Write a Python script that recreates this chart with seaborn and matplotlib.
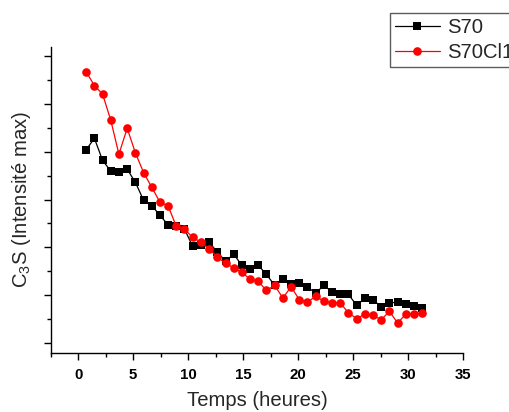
import numpy as np
import pandas as pd
import matplotlib
matplotlib.use("Agg")
import matplotlib.pyplot as plt
import seaborn as sns

# ---- data (y in arbitrary units, ticks unlabeled) ----
hours = [0.72, 1.47, 2.21, 2.96, 3.70, 4.45, 5.19, 5.94, 6.68, 7.43, 8.17,
         8.92, 9.66, 10.41, 11.15, 11.90, 12.64, 13.39, 14.13, 14.88, 15.62,
         16.37, 17.11, 17.86, 18.60, 19.35, 20.09, 20.84, 21.58, 22.33, 23.07,
         23.82, 24.56, 25.31, 26.05, 26.80, 27.54, 28.29, 29.03, 29.78, 30.52,
         31.27]
s70 = [4.035, 4.278, 3.819, 3.590, 3.583, 3.632, 3.361, 2.986, 2.875, 2.667,
       2.472, 2.438, 2.382, 2.021, 2.042, 2.104, 1.910, 1.708, 1.861, 1.625,
       1.549, 1.625, 1.438, 1.208, 1.340, 1.236, 1.257, 1.174, 1.049, 1.208,
       1.076, 1.035, 1.021, 0.792, 0.938, 0.910, 0.757, 0.833, 0.868, 0.819,
       0.785, 0.729]
s70cl1 = [5.667, 5.375, 5.201, 4.653, 3.944, 4.486, 3.979, 3.563, 3.257, 2.944,
          2.868, 2.438, 2.382, 2.208, 2.111, 1.965, 1.806, 1.667, 1.576, 1.479,
          1.340, 1.292, 1.104, 1.208, 0.944, 1.181, 0.910, 0.861, 0.979, 0.882,
          0.840, 0.840, 0.639, 0.514, 0.611, 0.583, 0.493, 0.667, 0.424, 0.611,
          0.611, 0.625]
series_names = ["S70", "S70Cl1"]
x_ticks = [0, 5, 10, 15, 20, 25, 30, 35]

sns.set_style("ticks")
plt.rcParams["font.family"] = ["Liberation Sans", "DejaVu Sans"]
plt.rcParams["mathtext.default"] = "regular"

fig = plt.figure(figsize=(5.09, 4.12), dpi=100)
ax = fig.add_axes([0.0996, 0.1432, 0.8106, 0.7435])

sns.lineplot(x=hours, y=s70, ax=ax, color="black", marker="s", markersize=5.4,
             markeredgewidth=0, linewidth=0.9, label=series_names[0])
sns.lineplot(x=hours, y=s70cl1, ax=ax, color="#ff0000", marker="o", markersize=6.2,
             markeredgewidth=0, linewidth=0.9, label=series_names[1])

ax.set_xlim(-2.5, 35)
ax.set_ylim(-0.2014, 6.1875)
ax.set_xticks(x_ticks)
ax.set_xticks(np.arange(-2.5, 35.1, 2.5), minor=True)
ax.set_yticks(np.arange(0, 6.1, 1))
ax.set_yticks(np.arange(0.5, 6.1, 0.5), minor=True)
ax.set_yticklabels([])
for lab in ax.get_xticklabels():
    lab.set_fontweight("bold")
ax.tick_params(axis="x", which="major", labelsize=10.8, length=5, width=1,
               direction="out", pad=5.5, colors="black")
ax.tick_params(axis="both", which="minor", length=3, width=1, direction="out",
               colors="black")
ax.tick_params(axis="y", which="major", length=5, width=1, direction="out",
               colors="black")
for s in ["left", "bottom"]:
    ax.spines[s].set_linewidth(1)
    ax.spines[s].set_color("black")
sns.despine(ax=ax)

ax.set_xlabel("Temps (heures)", fontsize=14.6, labelpad=7)
ax.set_ylabel("C$_3$S (Intensité max)", fontsize=14.6, labelpad=4)

leg = ax.legend(loc="upper left", bbox_to_anchor=(390 / 509, 1 - 13 / 412),
                bbox_transform=fig.transFigure, borderaxespad=0, fontsize=14.6,
                frameon=True, fancybox=False, handlelength=2.2,
                handletextpad=0.35, borderpad=0.25, labelspacing=0.3)
leg.get_frame().set_edgecolor("#333333")
leg.get_frame().set_linewidth(1)

fig.savefig("out.png", dpi=100)
